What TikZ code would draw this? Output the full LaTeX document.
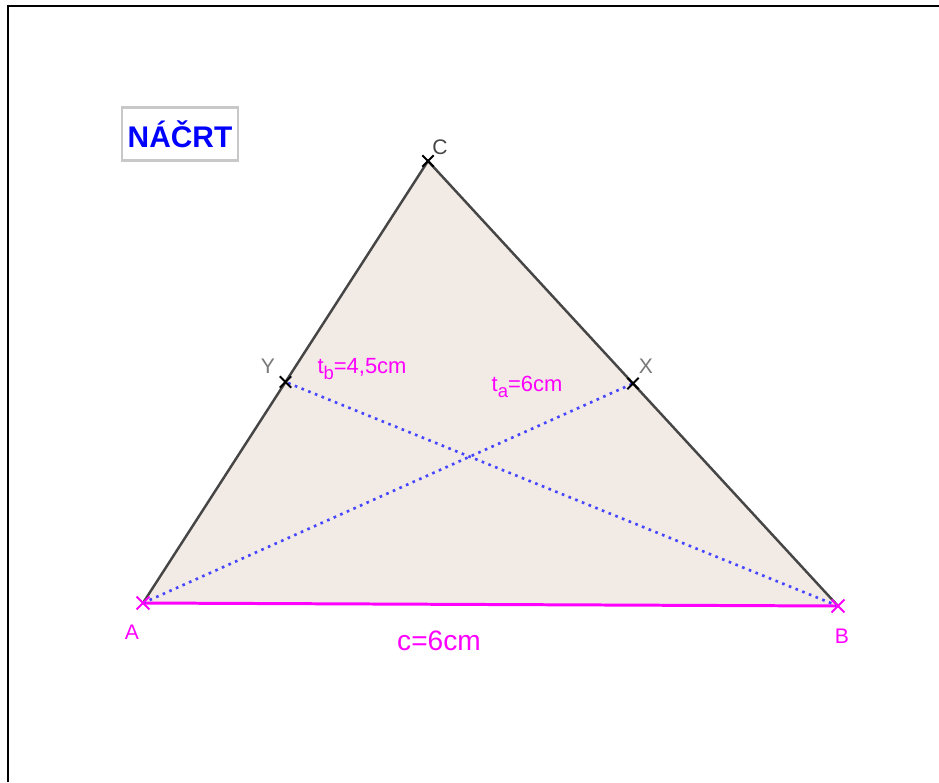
\documentclass[tikz,border=0pt]{standalone}
\usepackage{fontspec}
\setmainfont{Liberation Sans}
\usepackage{tikz}
\usetikzlibrary{calc,shapes.misc}
\definecolor{fillbeige}{RGB}{242,234,229}
\definecolor{edgegray}{RGB}{70,70,70}
\definecolor{medblue}{RGB}{70,70,255}
\definecolor{boxgray}{RGB}{200,200,200}
\definecolor{labgray}{RGB}{120,120,120}
\definecolor{pink}{RGB}{255,0,255}
\newcommand{\lsub}[1]{\raisebox{-0.55ex}{\fontsize{10.5}{12}\selectfont #1}}

\begin{document}
\begin{tikzpicture}[x=0.02cm,y=-0.02cm,
    vmark/.style={cross out,draw=#1,line width=1.1pt,minimum size=0.19cm,inner sep=0pt},
    median/.style={medblue,line width=1.5pt,dash pattern=on 1.5pt off 2.6pt},
    lab/.style={font=\fontsize{12}{14}\selectfont,inner sep=0pt}]
  \useasboundingbox (0,0) rectangle (939,782);
  % Frame
  \draw[line width=1.4pt] (8,782) -- (8,6) -- (939,6);
  % Vertices and midpoints
  \coordinate (A) at (143,603);
  \coordinate (B) at (838,606);
  \coordinate (C) at (428,161);
  \coordinate (Y) at ($(A)!0.5!(C)$);
  \coordinate (X) at ($(B)!0.5!(C)$);
  % Triangle
  \fill[fillbeige] (A) -- (B) -- (C) -- cycle;
  \draw[edgegray,line width=1.4pt] (B) -- (C) -- (A);
  \draw[pink,line width=1.7pt] (A) -- (B);
  % Medians
  \draw[median] (A) -- (X);
  \draw[median] (B) -- (Y);
  % Point marks
  \foreach \p in {C,X,Y}{
    \node[vmark=black] (m\p) at (\p) {};
  }
  \foreach \p in {A,B}{
    \node[vmark=pink,minimum size=0.22cm] (m\p) at (\p) {};
  }
  % Point labels
  \node[lab,text=edgegray] (lC) at (440,147) {C};
  \node[lab,text=labgray] (lY) at (268,366) {Y};
  \node[lab,text=labgray] (lX) at (646,366) {X};
  \node[lab,text=pink] (lA) at (132,632) {A};
  \node[lab,text=pink] (lB) at (842,636) {B};
  % Lengths
  \node[lab,text=pink,font=\fontsize{12.5}{14}\selectfont] (tb) at (362,369)
       {t\lsub{b}=4,5cm};
  \node[lab,text=pink,font=\fontsize{12.5}{14}\selectfont] (ta) at (527,387)
       {t\lsub{a}=6cm};
  \node[lab,text=pink,font=\fontsize{16}{18}\selectfont] (lc) at (439,641) {c=6cm};
  % Title
  \node[draw=boxgray,line width=1.2pt,text=blue,font=\bfseries\fontsize{17}{19}\selectfont,
        minimum width=2.26cm,minimum height=1.06cm] (title) at (180,134) {NÁČRT};
\end{tikzpicture}
\end{document}
